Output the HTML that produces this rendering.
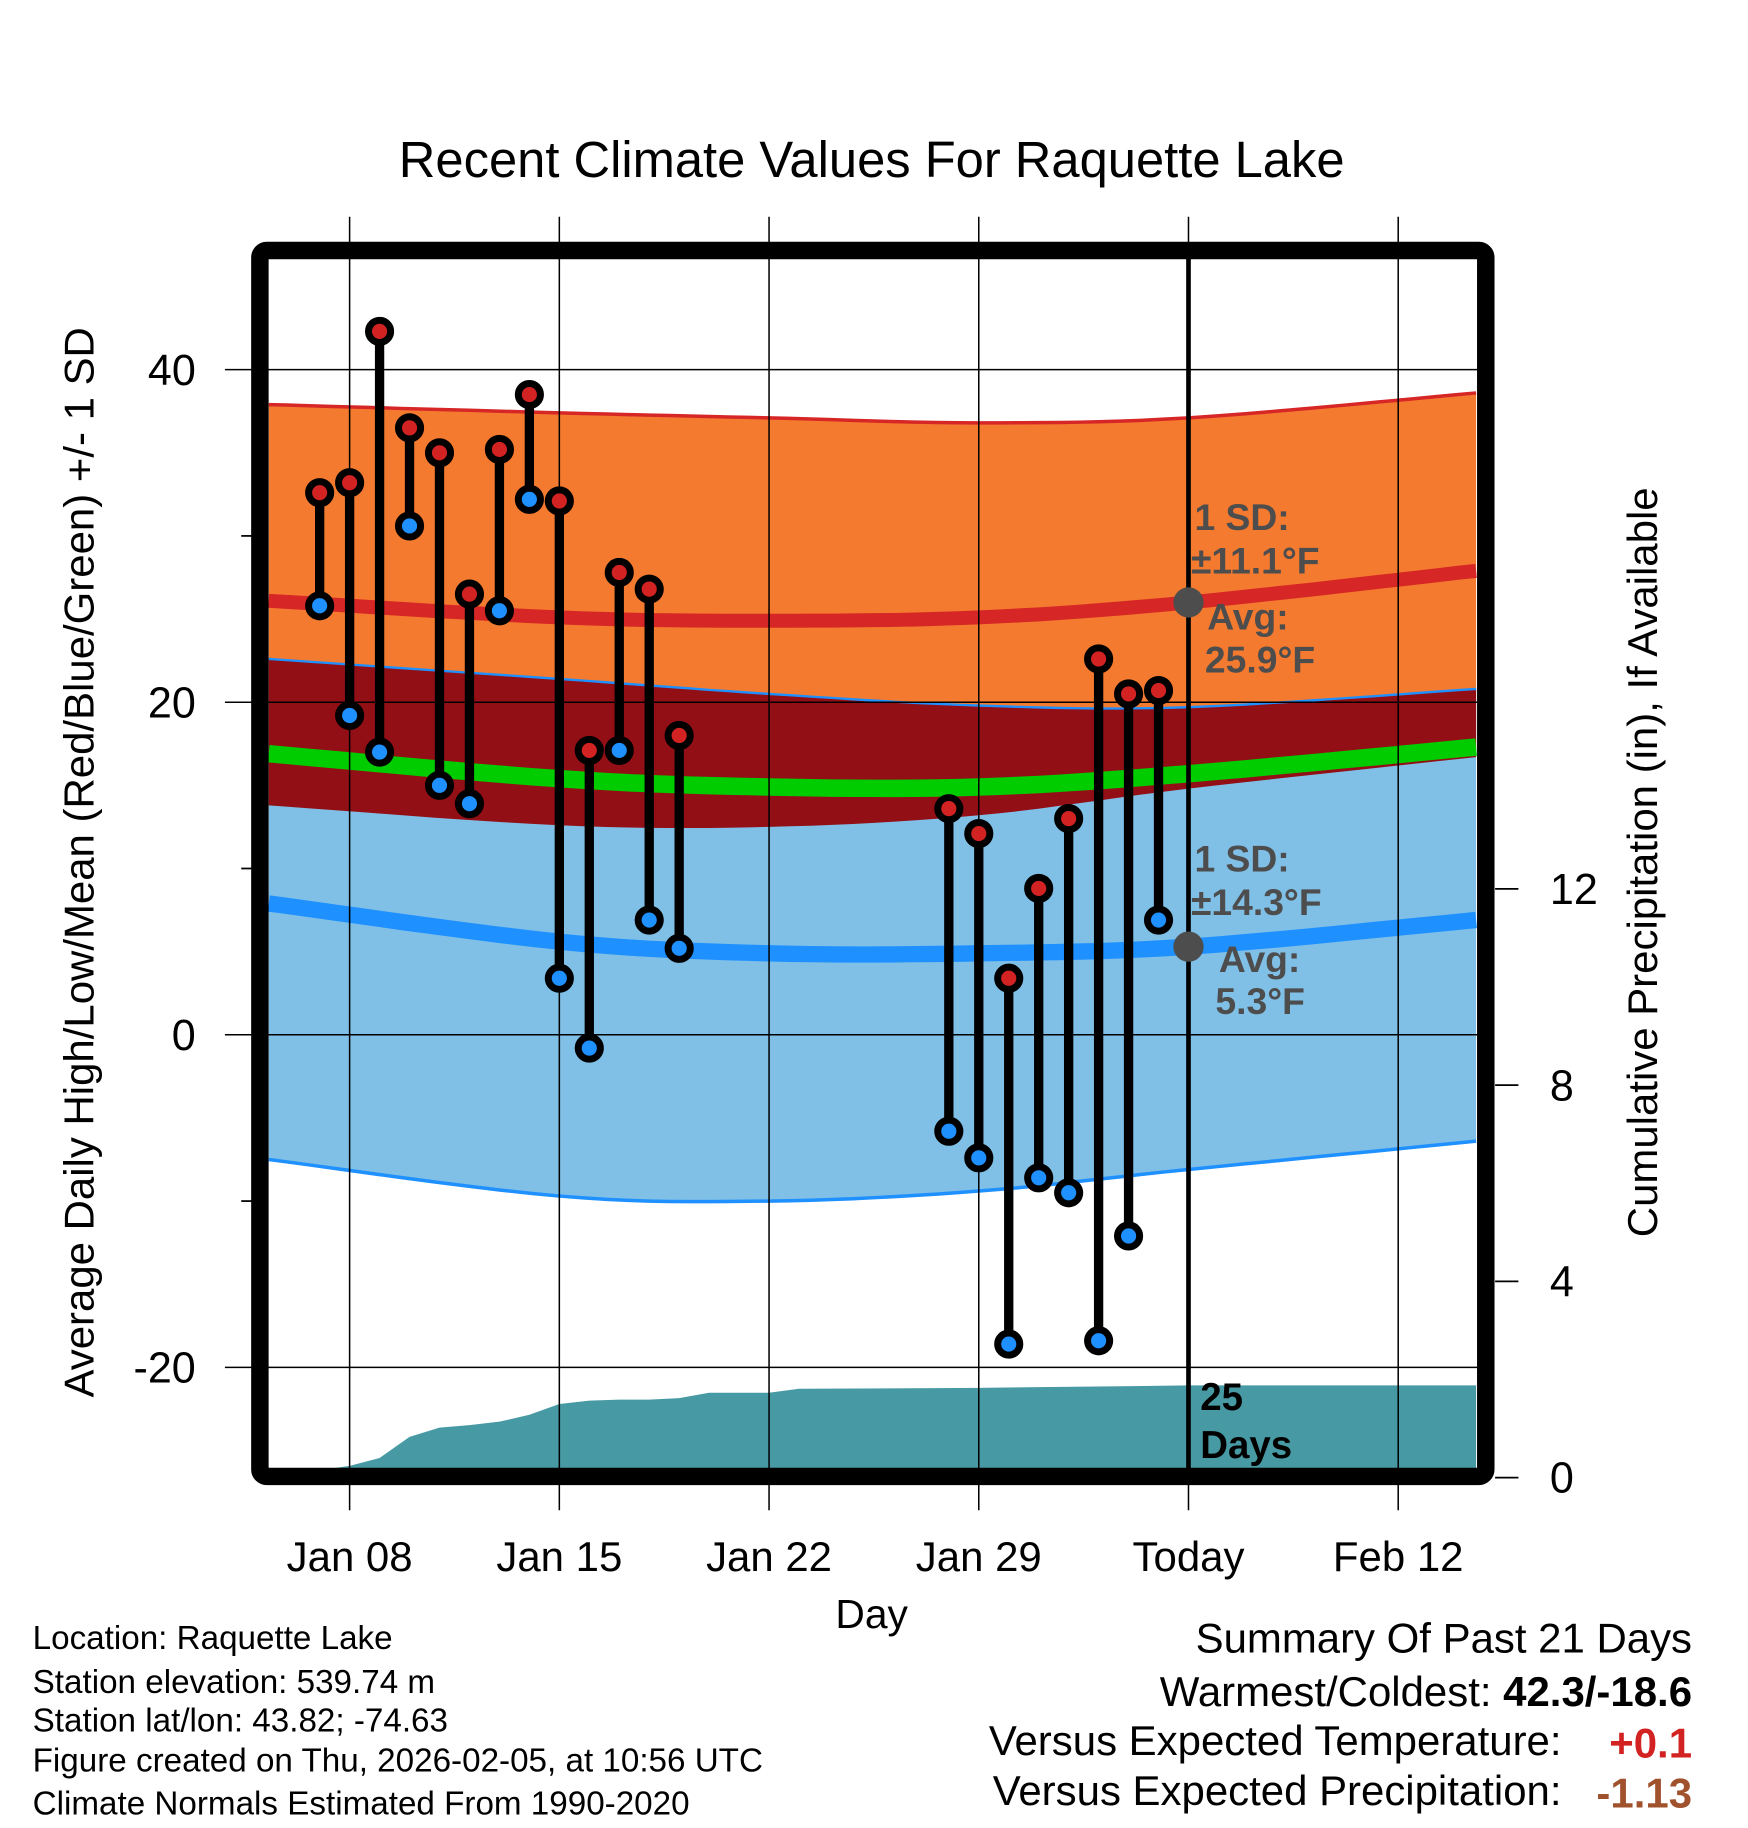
<!DOCTYPE html>
<html><head><meta charset="utf-8"><style>
html,body{margin:0;padding:0;background:#fff;}
svg{display:block;font-family:"Liberation Sans",Arial,sans-serif;}
</style></head><body>
<svg id="chart" width="1748" height="1828" viewBox="0 0 1500 1568.7" xmlns="http://www.w3.org/2000/svg">
<defs><clipPath id="plotClip"><rect x="230" y="222" width="1038" height="1038"/></clipPath></defs>
<text x="748" y="152" font-size="43.5" text-anchor="middle">Recent Climate Values For Raquette Lake</text>
<g id="bands" clip-path="url(#plotClip)"></g>
<g id="grid"></g>
<g id="marks" clip-path="url(#plotClip)"></g>
<rect x="223" y="215" width="1052" height="1052" rx="6" fill="none" stroke="#000" stroke-width="15"/>
<g id="axes"></g>
<g font-weight="bold" font-size="32" fill="#4d4d4d">
<text x="1025" y="455">1 SD:</text>
<text x="1022" y="492">±11.1°F</text>
<text x="1036" y="540">Avg:</text>
<text x="1034" y="577">25.9°F</text>
<text x="1025" y="748">1 SD:</text>
<text x="1022" y="785">±14.3°F</text>
<text x="1046" y="834">Avg:</text>
<text x="1043" y="870">5.3°F</text>
</g>
<text x="1030" y="1210" font-weight="bold" font-size="33">25</text>
<text x="1030" y="1251" font-weight="bold" font-size="33">Days</text>
<text x="748" y="1397" font-size="35" text-anchor="middle">Day</text>
<text transform="translate(80,740) rotate(-90)" font-size="36" text-anchor="middle">Average Daily High/Low/Mean (Red/Blue/Green) +/- 1 SD</text>
<text transform="translate(1422,740) rotate(-90)" font-size="36" text-anchor="middle">Cumulative Precipitation (in), If Available</text>
<g font-size="28.5">
<text x="28" y="1415">Location: Raquette Lake</text>
<text x="28" y="1453">Station elevation: 539.74 m</text>
<text x="28" y="1486">Station lat/lon: 43.82; -74.63</text>
<text x="28" y="1520">Figure created on Thu, 2026-02-05, at 10:56 UTC</text>
<text x="28" y="1557">Climate Normals Estimated From 1990-2020</text>
</g>
<g font-size="36">
<text x="1452" y="1418" text-anchor="end">Summary Of Past 21 Days</text>
<text x="1452" y="1464" text-anchor="end">Warmest/Coldest: <tspan font-weight="bold">42.3/-18.6</tspan></text>
<text x="1340" y="1506" text-anchor="end">Versus Expected Temperature:</text>
<text x="1452" y="1508" text-anchor="end" font-weight="bold" fill="#d22222">+0.1</text>
<text x="1340" y="1549" text-anchor="end">Versus Expected Precipitation:</text>
<text x="1452" y="1551" text-anchor="end" font-weight="bold" fill="#a0522d">-1.13</text>
</g>
</svg>
<script>
// Day index: Jan 1 = 0
const obsDays = [6,7,8,9,10,11,12,13,14,15,16,17,18,27,28,29,30,31,32,33,34];
const highs = [32.6,33.2,42.3,36.5,35.0,26.5,35.2,38.5,32.1,17.1,27.8,26.8,18.0,13.6,12.1,3.4,8.8,13.0,22.6,20.5,20.7];
const lows = [25.8,19.2,17.0,30.6,15.0,13.9,25.5,32.2,3.4,-0.8,17.1,6.9,5.2,-5.8,-7.4,-18.6,-8.6,-9.5,-18.4,-12.1,6.9];
const normDays = [4.3,14,21,28,35,44.6];
const highUpper = [37.9,37.4,37.1,36.8,37.1,38.6];
const highMean = [26.1,25.1,24.9,25.1,26.0,27.9];
const highLower = [13.8,12.6,12.5,13.2,14.8,16.7];
const lowUpper = [22.6,21.4,20.5,19.8,19.7,20.8];
const lowMean = [7.9,5.6,4.9,4.9,5.3,6.9];
const lowLower = [-7.5,-9.7,-10.0,-9.4,-8.1,-6.4];
const avgMean = [16.9,15.4,14.9,14.9,15.7,17.3];
const precipDays = [4.3,7,8,9,10,11,12,13,14,15,16,17,18,19,21,22,28,35,44.6];
const precipVals = [0.0,0.24,0.40,0.83,1.02,1.07,1.14,1.28,1.50,1.57,1.59,1.59,1.62,1.73,1.73,1.81,1.83,1.88,1.88];
const xTickDays = [7,14,21,28,35,42];
const xTickLabels = ["Jan 08","Jan 15","Jan 22","Jan 29","Today","Feb 12"];
const yTicks = [40,20,0,-20];
const yMinor = [30,10,-10];
const y2Ticks = [0,4,8,12];
const todayDay = 35;

const NS="http://www.w3.org/2000/svg";
const X = d => 300 + (d-7)*25.71;
const Y = v => 888 - v*14.27;
const Y2 = p => 1268 - p*42.1;
function mk(tag, attrs, parent){const e=document.createElementNS(NS,tag);for(const k in attrs)e.setAttribute(k,attrs[k]);parent.appendChild(e);return e;}
const bands=document.getElementById('bands'), grid=document.getElementById('grid'), marks=document.getElementById('marks'), axes=document.getElementById('axes');
// smooth curve via Catmull-Rom sampled points
function smoothPts(vals){
  const out=[];
  const n=normDays.length;
  for(let i=0;i<n-1;i++){
    const p0=i>0?i-1:i, p3=i+2<n?i+2:i+1;
    for(let s=0;s<10;s++){
      const t=s/10, t2=t*t, t3=t2*t;
      const cr=(a,b,c,d)=>0.5*(2*b+(-a+c)*t+(2*a-5*b+4*c-d)*t2+(-a+3*b-3*c+d)*t3);
      const d=cr(normDays[p0],normDays[i],normDays[i+1],normDays[p3]);
      const v=cr(vals[p0],vals[i],vals[i+1],vals[p3]);
      out.push(X(d).toFixed(1)+','+Y(v).toFixed(1));
    }
  }
  out.push(X(normDays[n-1]).toFixed(1)+','+Y(vals[n-1]).toFixed(1));
  return out;
}
function line(vals){return smoothPts(vals);}
function area(up,lo){return line(up).concat(line(lo).reverse()).join(' ');}
let e;
e=mk('polygon',{points:area(highUpper,highLower),fill:'#f47a2f'},bands);


e=mk('polygon',{points:area(lowUpper,lowLower),fill:'#80bfe6'},bands);


e=mk('polygon',{points:area(lowUpper,highLower),fill:'#930f16'},bands);


e=mk('polyline',{points:line(highUpper).join(' '),fill:'none',stroke:'#d62626','stroke-width':3},bands);


e=mk('polyline',{points:line(lowUpper).join(' '),fill:'none',stroke:'#1e90ff','stroke-width':2},bands);


e=mk('polyline',{points:line(lowLower).join(' '),fill:'none',stroke:'#1e90ff','stroke-width':3},bands);


e=mk('polyline',{points:line(avgMean).join(' '),fill:'none',stroke:'#00cc00','stroke-width':15},bands);


e=mk('polyline',{points:line(highMean).join(' '),fill:'none',stroke:'#d62626','stroke-width':12},bands);


e=mk('polyline',{points:line(lowMean).join(' '),fill:'none',stroke:'#1e90ff','stroke-width':14},bands);


// precip area
const pp=precipDays.map((d,i)=>X(d).toFixed(1)+','+Y2(precipVals[i]).toFixed(1));
pp.push(X(precipDays[precipDays.length-1]).toFixed(1)+',1270');pp.push(X(precipDays[0]).toFixed(1)+',1270');
e=mk('polygon',{points:pp.join(' '),fill:'#479aa3'},bands);


// grid
xTickDays.forEach((d,i)=>{
  e=mk('line',{x1:X(d),x2:X(d),y1:186,y2:1296,stroke:'#000','stroke-width':1.3},grid);
  
  
  e=mk('text',{x:X(d),y:1348,'font-size':36,'text-anchor':'middle'},axes);
  e.textContent=xTickLabels[i];
  
  
});
yTicks.forEach(v=>{
  e=mk('line',{x1:193,x2:1268,y1:Y(v),y2:Y(v),stroke:'#000','stroke-width':1.3},grid);
  
  
  e=mk('text',{x:168,y:Y(v)+13,'font-size':37,'text-anchor':'end'},axes);
  e.textContent=v;
  
  
});
yMinor.forEach(v=>{
  e=mk('line',{x1:207,x2:216,y1:Y(v),y2:Y(v),stroke:'#000','stroke-width':1.5},axes);
  
  
});
y2Ticks.forEach(p=>{
  e=mk('line',{x1:1283,x2:1303,y1:Y2(p),y2:Y2(p),stroke:'#000','stroke-width':1.5},axes);
  
  
  e=mk('text',{x:1330,y:Y2(p)+13,'font-size':37,'text-anchor':'start'},axes);
  e.textContent=p;
  
  
});
// today line
e=mk('line',{x1:X(todayDay),x2:X(todayDay),y1:222,y2:1260,stroke:'#000','stroke-width':4},marks);


// obs
obsDays.forEach((d,i)=>{
  const x=X(d),yh=Y(highs[i]),yl=Y(lows[i]);
  e=mk('line',{x1:x,x2:x,y1:yh,y2:yl,stroke:'#000','stroke-width':8},marks);
  
  
  e=mk('circle',{cx:x,cy:yl,r:9.5,fill:'#1e90ff',stroke:'#000','stroke-width':6},marks);
  
  
  e=mk('circle',{cx:x,cy:yh,r:9.5,fill:'#d22222',stroke:'#000','stroke-width':6},marks);
  
  
});
const hm=highMean[4], lm=lowMean[4];
e=mk('circle',{cx:X(todayDay),cy:Y(hm),r:13,fill:'#4d4d4d'},marks);


e=mk('circle',{cx:X(todayDay),cy:Y(lm),r:13,fill:'#4d4d4d'},marks);


</script>
</body></html>
